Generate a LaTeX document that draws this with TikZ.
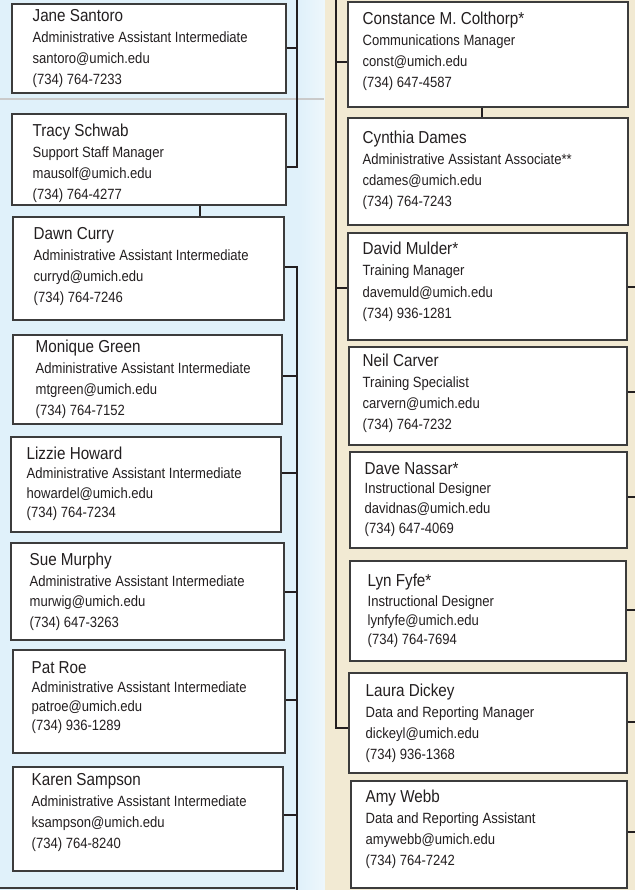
\documentclass[tikz,border=0pt]{standalone}
\usepackage{fontspec}
\setmainfont{Liberation Sans}[FakeStretch=0.88]
\usetikzlibrary{positioning,fit}
\definecolor{inkdark}{HTML}{231F20}
\definecolor{boxline}{HTML}{3C3C3C}
\definecolor{bluepanel}{HTML}{E0F1FA}
\definecolor{bluelight}{HTML}{EEF7FC}
\definecolor{beigepanel}{HTML}{F2EAD3}
\definecolor{rulegrey}{HTML}{CACACA}
\newcommand{\namefont}{\fontsize{17.3}{21}\selectfont}
\tikzset{staffbox/.style={rectangle,draw=boxline,fill=white,line width=1.1pt,inner sep=0pt}}
\tikzset{stafftext/.style={inner sep=0pt,align=left,text=inkdark,font=\fontsize{14.85}{#1}\selectfont},stafftext/.default=21}
\tikzset{link/.style={draw=inkdark,line width=2pt}}

\begin{document}
\begin{tikzpicture}[x=1pt,y=-1pt]
\useasboundingbox (0,0) rectangle (635,890);
% panels
\fill[bluepanel] (0,0) rectangle (325,890);
\shade[left color=bluepanel,right color=bluelight] (299,0) rectangle (325,890);
\fill[beigepanel] (325,0) rectangle (635,890);
\draw[rulegrey,line width=2pt] (0,99) -- (324,99);
\draw[boxline,line width=1.2pt] (0,888) -- (295,888);

% left column
\node (jane) [staffbox, fit={(12,4) (286,93)}] {};
\node (jane-t) [stafftext, below right=5.8pt and 21pt of jane.north west] {{\namefont Jane Santoro}\\Administrative Assistant Intermediate\\santoro@umich.edu\\(734) 764-7233};
\node (tracy) [staffbox, fit={(12,114) (286,205)}] {};
\node (tracy-t) [stafftext, below right=10.2pt and 21pt of tracy.north west] {{\namefont Tracy Schwab}\\Support Staff Manager\\mausolf@umich.edu\\(734) 764-4277};
\node (dawn) [staffbox, fit={(13,217) (284,320)}] {};
\node (dawn-t) [stafftext, below right=10.5pt and 21pt of dawn.north west] {{\namefont Dawn Curry}\\Administrative Assistant Intermediate\\curryd@umich.edu\\(734) 764-7246};
\node (monique) [staffbox, fit={(13,335) (282,424)}] {};
\node (monique-t) [stafftext, below right=5.8pt and 23pt of monique.north west] {{\namefont Monique Green}\\Administrative Assistant Intermediate\\mtgreen@umich.edu\\(734) 764-7152};
\node (lizzie) [staffbox, fit={(11,437) (281,532)}] {};
\node (lizzie-t) [stafftext=19.3, below right=10.5pt and 16pt of lizzie.north west] {{\namefont Lizzie Howard}\\Administrative Assistant Intermediate\\howardel@umich.edu\\(734) 764-7234};
\node (sue) [staffbox, fit={(11,543) (284,640)}] {};
\node (sue-t) [stafftext=20.5, below right=10.5pt and 19pt of sue.north west] {{\namefont Sue Murphy}\\Administrative Assistant Intermediate\\murwig@umich.edu\\(734) 647-3263};
\node (pat) [staffbox, fit={(13,650) (285,753)}] {};
\node (pat-t) [stafftext=19.3, below right=11.5pt and 19pt of pat.north west] {{\namefont Pat Roe}\\Administrative Assistant Intermediate\\patroe@umich.edu\\(734) 936-1289};
\node (karen) [staffbox, fit={(13,767) (283,871)}] {};
\node (karen-t) [stafftext, below right=6.5pt and 19pt of karen.north west] {{\namefont Karen Sampson}\\Administrative Assistant Intermediate\\ksampson@umich.edu\\(734) 764-8240};

% right column
\node (constance) [staffbox, fit={(348,2) (628,107)}] {};
\node (constance-t) [stafftext, below right=10.5pt and 15pt of constance.north west] {{\namefont Constance M. Colthorp*}\\Communications Manager\\const@umich.edu\\(734) 647-4587};
\node (cynthia) [staffbox, fit={(348,118) (628,225)}] {};
\node (cynthia-t) [stafftext, below right=13.5pt and 15pt of cynthia.north west] {{\namefont Cynthia Dames}\\Administrative Assistant Associate**\\cdames@umich.edu\\(734) 764-7243};
\node (david) [staffbox, fit={(348,233) (627,340)}] {};
\node (david-t) [stafftext=21.3, below right=9.5pt and 15pt of david.north west] {{\namefont David Mulder*}\\Training Manager\\davemuld@umich.edu\\(734) 936-1281};
\node (neil) [staffbox, fit={(349,347) (627,445)}] {};
\node (neil-t) [stafftext, below right=7.8pt and 14pt of neil.north west] {{\namefont Neil Carver}\\Training Specialist\\carvern@umich.edu\\(734) 764-7232};
\node (dave) [staffbox, fit={(350,452) (627,548)}] {};
\node (dave-t) [stafftext=19.7, below right=10.5pt and 15pt of dave.north west] {{\namefont Dave Nassar*}\\Instructional Designer\\davidnas@umich.edu\\(734) 647-4069};
\node (lyn) [staffbox, fit={(350,561) (626,661)}] {};
\node (lyn-t) [stafftext=19.3, below right=13.8pt and 18pt of lyn.north west] {{\namefont Lyn Fyfe*}\\Instructional Designer\\lynfyfe@umich.edu\\(734) 764-7694};
\node (laura) [staffbox, fit={(349,673) (627,773)}] {};
\node (laura-t) [stafftext, below right=11.2pt and 17pt of laura.north west] {{\namefont Laura Dickey}\\Data and Reporting Manager\\dickeyl@umich.edu\\(734) 936-1368};
\node (amy) [staffbox, fit={(351,781) (627,888)}] {};
\node (amy-t) [stafftext, below right=9.2pt and 15pt of amy.north west] {{\namefont Amy Webb}\\Data and Reporting Assistant\\amywebb@umich.edu\\(734) 764-7242};

% left connectors
\coordinate (ltrunk) at (297,0);
\coordinate (lbottom) at (297,890);
\draw[link] (ltrunk) |- (tracy.east |- 0,167);
\draw[link] (jane.east |- 0,48) -- (ltrunk |- 0,48);
\draw[link] (tracy.south -| 200,0) -- (dawn.north -| 200,0);
\draw[link] (dawn.east |- 0,267) -| (lbottom);
\draw[link] (monique.east |- 0,376) -- (lbottom |- 0,376);
\draw[link] (lizzie.east |- 0,473) -- (lbottom |- 0,473);
\draw[link] (sue.east |- 0,592) -- (lbottom |- 0,592);
\draw[link] (pat.east |- 0,700) -- (lbottom |- 0,700);
\draw[link] (karen.east |- 0,815) -- (lbottom |- 0,815);

% right connectors
\coordinate (rtrunk) at (336,0);
\coordinate (redge) at (635,0);
\draw[link] (rtrunk) |- (laura.west |- 0,728);
\draw[link] (rtrunk |- 0,62) -- (constance.west |- 0,62);
\draw[link] (rtrunk |- 0,288) -- (david.west |- 0,288);
\draw[link] (constance.south -| 482,0) -- (cynthia.north -| 482,0);
\draw[link] (david.east |- 0,287) -- (redge |- 0,287);
\draw[link] (neil.east |- 0,392) -- (redge |- 0,392);
\draw[link] (dave.east |- 0,497) -- (redge |- 0,497);
\draw[link] (lyn.east |- 0,610) -- (redge |- 0,610);
\draw[link] (laura.east |- 0,722) -- (redge |- 0,722);
\draw[link] (amy.east |- 0,832) -- (redge |- 0,832);
\end{tikzpicture}
\end{document}
